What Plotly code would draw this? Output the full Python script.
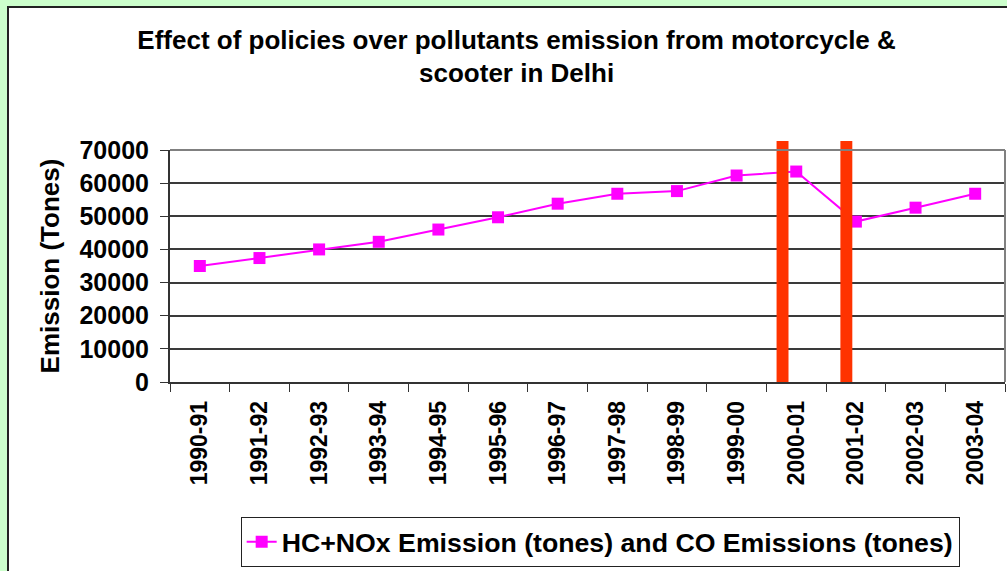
import plotly.graph_objects as go

years = ["1990-91", "1991-92", "1992-93", "1993-94", "1994-95", "1995-96", "1996-97",
         "1997-98", "1998-99", "1999-00", "2000-01", "2001-02", "2002-03", "2003-04"]
emissions = [35000, 37400, 40000, 42300, 46000, 49700, 53800,
             56800, 57600, 62300, 63500, 48400, 52600, 56800]

# policy markers (red bars), drawn just left of these categories
policy_years = ["2000-01", "2001-02"]
policy_offsets = [-0.23, -0.16]

yticks = list(range(0, 70001, 10000))

W, H = 1007, 571
L, R, T, B = 170, 2, 150, 189
pw, ph = W - L - R, H - T - B

FONT = "Liberation Sans, Arial, sans-serif"


def px_x(px):
    return (px - L) / pw


def px_y(py):
    return (H - B - py) / ph


fig = go.Figure()

fig.add_trace(go.Scatter(
    x=years, y=emissions, mode="lines+markers",
    name="<b>HC+NOx Emission (tones) and CO Emissions (tones)</b>",
    line=dict(color="#ff00ff", width=2),
    marker=dict(symbol="square", size=12, color="#ff00ff"),
))

shapes = [
    # white chart area with dark frame over the green page
    dict(type="rect", xref="paper", yref="paper", layer="below",
         x0=px_x(8), x1=px_x(1015), y0=px_y(580), y1=px_y(7),
         fillcolor="white", line=dict(color="#222222", width=2)),
]
for yr, off in zip(policy_years, policy_offsets):
    i = years.index(yr) + off
    shapes.append(dict(type="rect", xref="x", yref="paper", layer="above",
                       x0=i - 0.1, x1=i + 0.1, y0=0, y1=px_y(141),
                       fillcolor="#ff3300", line=dict(width=0)))

# top and right borders of the plot area
shapes.append(dict(type="line", xref="paper", yref="paper", x0=0, x1=1, y0=1, y1=1,
                   line=dict(color="#808080", width=2)))
shapes.append(dict(type="line", xref="paper", yref="paper", x0=1, x1=1, y0=0, y1=1,
                   line=dict(color="#808080", width=2)))

fig.update_layout(
    width=W, height=H,
    margin=dict(l=L, r=R, t=T, b=B),
    paper_bgcolor="#ccffcc",
    plot_bgcolor="#ccccff",
    font=dict(family=FONT, color="black"),
    title=dict(
        text="<b>Effect of policies over pollutants emission from motorcycle &amp;<br>scooter in Delhi</b>",
        x=0.513, xanchor="center", y=0.915, yanchor="top",
        font=dict(size=26, family=FONT),
    ),
    showlegend=True,
    legend=dict(
        orientation="h", x=0.596, xanchor="center", xref="container",
        y=0.007, yanchor="bottom", yref="container",
        bgcolor="white", bordercolor="#222222", borderwidth=1,
        font=dict(size=26.7, family=FONT),
    ),
    shapes=shapes,
)

fig.update_xaxes(
    type="category", tickson="boundaries",
    ticks="outside", ticklen=8, tickcolor="#333333",
    tickangle=-90, tickfont=dict(size=23, family=FONT), ticklabelstandoff=8,
    tickvals=years, ticktext=[f"<b>{y}</b>" for y in years],
    showgrid=False, showline=True, linecolor="#333333", linewidth=1.5,
    range=[-0.5, len(years) - 0.5],
)
fig.update_yaxes(
    range=[0, 70000],
    tickvals=yticks, ticktext=[f"<b>{v}</b>" for v in yticks],
    ticks="outside", ticklen=8, tickcolor="#333333",
    tickfont=dict(size=25, family=FONT), ticklabelstandoff=6,
    showgrid=True, gridcolor="#3a3a3a", gridwidth=1.5,
    showline=True, linecolor="#333333", linewidth=2,
    title=dict(text="<b>Emission (Tones)</b>", font=dict(size=26, family=FONT), standoff=12),
)

fig.write_html("out.html", config={"displayModeBar": False},
               post_script="document.body.style.margin='0';")
